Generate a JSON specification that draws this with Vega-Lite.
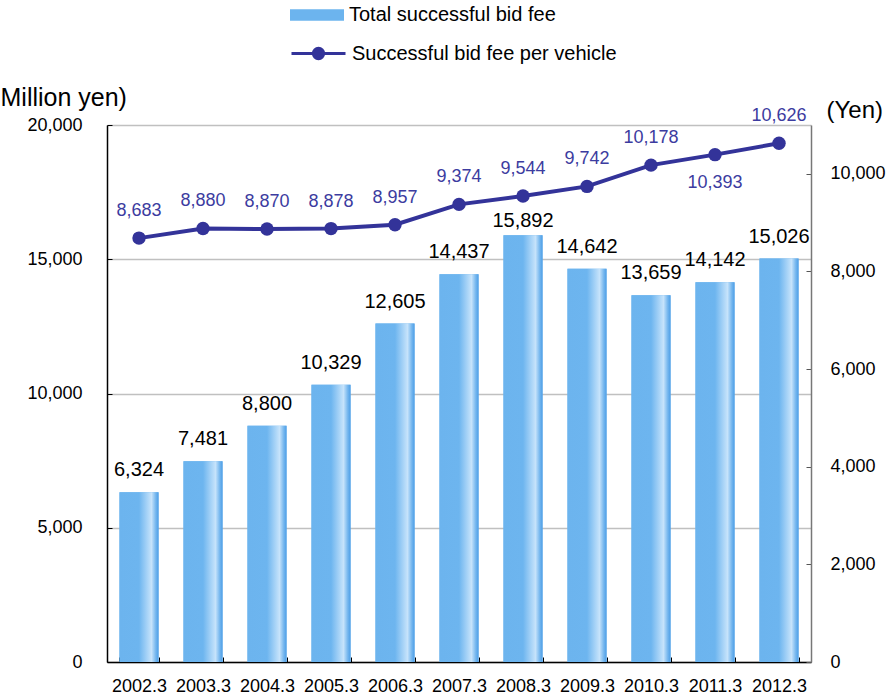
{
  "$schema": "https://vega.github.io/schema/vega-lite/v6.json",
  "width": 704,
  "height": 537,
  "autosize": {"type": "none"},
  "padding": {"left": 107, "top": 125, "right": 83, "bottom": 38},
  "background": "white",
  "config": {
    "font": "Liberation Sans",
    "view": {"stroke": null},
    "axis": {"labelFont": "Liberation Sans", "titleFont": "Liberation Sans", "labelColor": "#000", "titleColor": "#000", "titleFontWeight": "normal"},
    "legend": {"labelFont": "Liberation Sans", "labelColor": "#000", "labelLimit": 0}
  },
  "data": {
    "values": [
      {"year": "2002.3", "total": 6324, "per_vehicle": 8683},
      {"year": "2003.3", "total": 7481, "per_vehicle": 8880},
      {"year": "2004.3", "total": 8800, "per_vehicle": 8870},
      {"year": "2005.3", "total": 10329, "per_vehicle": 8878},
      {"year": "2006.3", "total": 12605, "per_vehicle": 8957},
      {"year": "2007.3", "total": 14437, "per_vehicle": 9374},
      {"year": "2008.3", "total": 15892, "per_vehicle": 9544},
      {"year": "2009.3", "total": 14642, "per_vehicle": 9742},
      {"year": "2010.3", "total": 13659, "per_vehicle": 10178},
      {"year": "2011.3", "total": 14142, "per_vehicle": 10393},
      {"year": "2012.3", "total": 15026, "per_vehicle": 10626}
    ]
  },
  "layer": [
    {
      "layer": [
        {
          "mark": {"type": "bar", "color": "#6cb4ee"},
          "encoding": {
            "x": {"field": "year", "type": "nominal", "sort": null,
              "scale": {"paddingInner": 0.39, "paddingOuter": 0.195},
              "axis": {"title": null, "labelAngle": 0, "labelFontSize": 18, "tickBand": "extent", "tickSize": -5, "tickColor": "#000", "domainColor": "#000", "domainWidth": 1.5, "labelPadding": 20}},
            "y": {"field": "total", "type": "quantitative",
              "scale": {"domain": [0, 20000], "nice": false},
              "axis": {"orient": "left", "values": [0, 5000, 10000, 15000, 20000], "format": ",d",
                "title": "Million yen)", "titleAngle": 0, "titleAlign": "left", "titleBaseline": "alphabetic",
                "titleX": -107, "titleY": -20, "titleFontSize": 25,
                "labelFontSize": 18, "labelPadding": 30, "tickSize": -5, "tickColor": "#000",
                "domainColor": "#000", "domainWidth": 1.5,
                "grid": true, "gridColor": "#c0c0c0", "gridWidth": 1.5}},
            "color": {"datum": "Total successful bid fee", "type": "nominal",
              "scale": {"range": ["#6cb4ee"]},
              "legend": {"orient": "none", "legendX": 183, "legendY": -137, "title": null, "padding": 0,
                "symbolType": "M-1,-0.21H1V0.21H-1Z", "symbolSize": 2916, "symbolStrokeWidth": 0,
                "labelFontSize": 20, "labelOffset": 5, "labelLimit": 0,
                "encode": {"symbols": {"update": {"fill": {"value": {"gradient": "linear", "x1": 0, "x2": 1, "y1": 0, "y2": 0,
                  "stops": [{"offset": 0, "color": "#6cb4ee"}, {"offset": 0.5, "color": "#6db5ef"}, {"offset": 0.82, "color": "#c6e3fb"}, {"offset": 0.93, "color": "#74b6ee"}, {"offset": 1, "color": "#4c9ee7"}]}}, "opacity": {"value": 1}}}}}
            }
          }
        },
        {
          "mark": {"type": "bar", "color": {"gradient": "linear", "x1": 0, "x2": 1, "y1": 0, "y2": 0,
            "stops": [{"offset": 0, "color": "#6cb4ee"}, {"offset": 0.5, "color": "#6db5ef"}, {"offset": 0.82, "color": "#c6e3fb"}, {"offset": 0.93, "color": "#74b6ee"}, {"offset": 1, "color": "#4c9ee7"}]}},
          "encoding": {
            "x": {"field": "year", "type": "nominal", "sort": null},
            "y": {"field": "total", "type": "quantitative"}
          }
        },
        {
          "transform": [{"filter": "datum.year != '2008.3'"}],
          "mark": {"type": "text", "baseline": "alphabetic", "dy": -16, "fontSize": 20, "color": "#000"},
          "encoding": {
            "x": {"field": "year", "type": "nominal", "sort": null},
            "y": {"field": "total", "type": "quantitative"},
            "text": {"field": "total", "type": "quantitative", "format": ",d"}
          }
        },
        {
          "transform": [{"filter": "datum.year == '2008.3'"}],
          "mark": {"type": "text", "baseline": "alphabetic", "dy": -8, "fontSize": 20, "color": "#000"},
          "encoding": {
            "x": {"field": "year", "type": "nominal", "sort": null},
            "y": {"field": "total", "type": "quantitative"},
            "text": {"field": "total", "type": "quantitative", "format": ",d"}
          }
        }
      ]
    },
    {
      "layer": [
        {
          "mark": {"type": "line", "color": "#333399", "strokeWidth": 4},
          "encoding": {
            "x": {"field": "year", "type": "nominal", "sort": null},
            "y": {"field": "per_vehicle", "type": "quantitative",
              "scale": {"domain": [0, 11000], "nice": false},
              "axis": {"orient": "right", "values": [0, 2000, 4000, 6000, 8000, 10000], "format": ",d",
                "title": "(Yen)", "titleAngle": 0, "titleAlign": "left", "titleBaseline": "alphabetic",
                "titleX": 15, "titleY": -8, "titleFontSize": 24,
                "labelFontSize": 18, "labelPadding": 24, "tickSize": -5, "tickColor": "#555",
                "domainColor": "#777", "domainWidth": 1.5, "grid": false}},
            "color": {"datum": "Successful bid fee per vehicle", "type": "nominal",
              "scale": {"range": ["#333399"]},
              "legend": {"orient": "none", "legendX": 183, "legendY": -100, "title": null, "padding": 0,
                "symbolType": "M-1,0H1M0.19,0A0.19,0.19,0,1,1,-0.19,0A0.19,0.19,0,1,1,0.19,0Z", "symbolSize": 2916, "symbolStrokeWidth": 3,
                "labelFontSize": 20, "labelOffset": 5, "labelLimit": 0,
                "encode": {"symbols": {"update": {"fill": {"value": "#333399"}, "stroke": {"value": "#333399"}, "opacity": {"value": 1}}}}}
            }
          }
        },
        {
          "mark": {"type": "point", "filled": true, "size": 180, "color": "#333399", "opacity": 1},
          "encoding": {
            "x": {"field": "year", "type": "nominal", "sort": null},
            "y": {"field": "per_vehicle", "type": "quantitative"}
          }
        },
        {
          "transform": [{"filter": "datum.year != '2011.3'"}],
          "mark": {"type": "text", "baseline": "alphabetic", "dy": -22, "fontSize": 18, "color": "#3c3ca0"},
          "encoding": {
            "x": {"field": "year", "type": "nominal", "sort": null},
            "y": {"field": "per_vehicle", "type": "quantitative"},
            "text": {"field": "per_vehicle", "type": "quantitative", "format": ",d"}
          }
        },
        {
          "transform": [{"filter": "datum.year == '2011.3'"}],
          "mark": {"type": "text", "baseline": "alphabetic", "dy": 33, "fontSize": 18, "color": "#3c3ca0"},
          "encoding": {
            "x": {"field": "year", "type": "nominal", "sort": null},
            "y": {"field": "per_vehicle", "type": "quantitative"},
            "text": {"field": "per_vehicle", "type": "quantitative", "format": ",d"}
          }
        }
      ]
    }
  ],
  "resolve": {"scale": {"y": "independent", "color": "independent"}}
}
